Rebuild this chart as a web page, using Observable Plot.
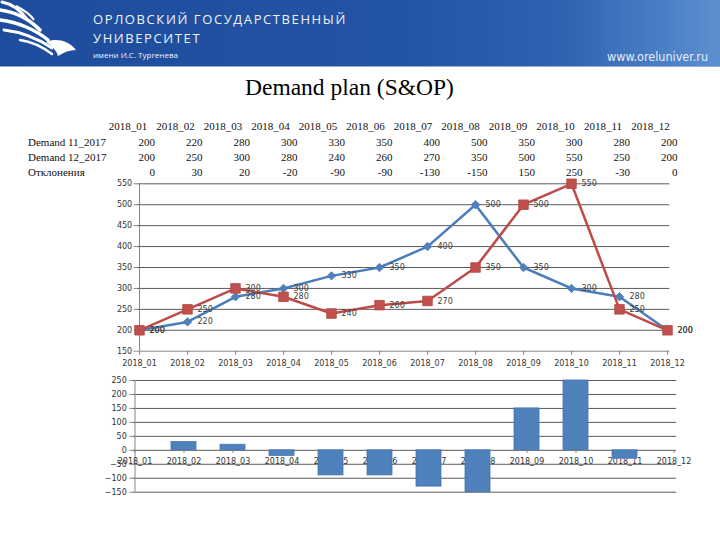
<!DOCTYPE html>
<html><head><meta charset="utf-8">
<script src="https://cdn.jsdelivr.net/npm/d3@7"></script>
<script src="https://cdn.jsdelivr.net/npm/@observablehq/plot@0.6"></script>
<style>
body{margin:0;background:#fff;width:720px;height:540px;overflow:hidden;position:relative;font-family:"DejaVu Sans",sans-serif}
#banner{position:absolute;left:0;top:0;width:720px;height:66px;background:linear-gradient(90deg,#1f4c9c 0%,#2353a5 55%,#2f62b0 78%,#4b7fc5 92%,#5d8fd0 100%);border-bottom:1px solid #8fb0de;overflow:hidden}
.bt{position:absolute;color:#eef3fb;font-family:"Open Sans",sans-serif;white-space:nowrap}
#title{position:absolute;left:245px;top:74px;font-family:"Liberation Serif","Times New Roman",serif;font-size:23.5px;color:#000;white-space:nowrap}
.cell{position:absolute;font-family:"Liberation Serif","Times New Roman",serif;font-size:11px;line-height:14px;color:#111;white-space:nowrap}
.chart{position:absolute;left:0}
</style></head>
<body>
<div id="banner">
<svg width="120" height="66" style="position:absolute;left:0;top:0">
<g fill="none" stroke="#ffffff" stroke-linecap="round">
<path d="M2,2 C12,4 20,10 26,18" stroke-width="3"/>
<path d="M0,10 C16,12 30,20 40,30" stroke-width="3.5"/>
<path d="M0,20 C18,22 36,30 48,40" stroke-width="3.5"/>
<path d="M4,30 C22,32 40,40 52,48" stroke-width="3"/>
<path d="M20,40 C34,42 44,48 52,54" stroke-width="2.5"/>
</g>
<path d="M46,42 C56,38 68,40 76,50 C70,50 64,52 58,56 C56,50 52,46 46,42 Z" fill="#ffffff"/>
<path d="M16,6 C24,10 30,14 34,20" stroke="#ffffff" stroke-width="2" fill="none"/>
</svg>
<div class="bt" style="left:93px;top:10px;font-size:13px;letter-spacing:1.6px">ОРЛОВСКИЙ ГОСУДАРСТВЕННЫЙ</div>
<div class="bt" style="left:93px;top:29px;font-size:13px;letter-spacing:1.6px">УНИВЕРСИТЕТ</div>
<div class="bt" style="left:93px;top:49px;font-size:8px">имени И.С. Тургенева</div>
<div class="bt" style="left:607px;top:49px;font-size:12.5px;font-family:'DejaVu Sans Condensed','DejaVu Sans',sans-serif;color:#e6eef9">www.oreluniver.ru</div>
</div>
<div id="title">Demand plan (S&amp;OP)</div>
<div id="table"></div>
<div id="lineChart" class="chart" style="top:175px"></div>
<div id="barChart" class="chart" style="top:370px"></div>
<script>
const months = ["2018_01","2018_02","2018_03","2018_04","2018_05","2018_06","2018_07","2018_08","2018_09","2018_10","2018_11","2018_12"];
const seriesNames = ["Demand 11_2017","Demand 12_2017"];
const deviationName = "Отклонения";
const demandNov = [200,220,280,300,330,350,400,500,350,300,280,200];
const demandDec = [200,250,300,280,240,260,270,350,500,550,250,200];
const deviation = [0,30,20,-20,-90,-90,-130,-150,150,250,-30,0];
const lineTicks = [150,200,250,300,350,400,450,500,550];
const barTicks = [-150,-100,-50,0,50,100,150,200,250];

// table
const table = document.getElementById("table");
function cell(text, css){const d=document.createElement("div");d.className="cell";d.textContent=text;Object.assign(d.style,css);table.appendChild(d);}
const rowTops = [119,135,150,165];
months.forEach((m,i)=>cell(m,{left:(128+i*47.5-30)+"px",width:"60px",textAlign:"center",top:rowTops[0]+"px"}));
const rows = [[seriesNames[0],demandNov],[seriesNames[1],demandDec],[deviationName,deviation]];
rows.forEach(([name,vals],r)=>{
  cell(name,{left:"28px",top:rowTops[r+1]+"px"});
  vals.forEach((v,i)=>cell(String(v),{left:(155+i*47.5-40)+"px",width:"40px",textAlign:"right",top:rowTops[r+1]+"px"}));
});

const nov = months.map((m,i)=>({month:m,value:demandNov[i]}));
const dec = months.map((m,i)=>({month:m,value:demandDec[i]}));
const dev = months.map((m,i)=>({month:m,value:deviation[i]}));

const gridColor = "#5a5a5a", axisColor = "#868686", textColor = "#333";
const blueLine = "#4A7EBB", blueFill = "#4F81BD", redLine = "#BE4B48", redFill = "#C0504D";

const line = Plot.plot({
  width:720, height:195, marginLeft:136.7, marginRight:50.7, marginTop:8.3, marginBottom:19.3,
  x:{type:"point", domain:months, padding:0, label:null},
  y:{domain:[150,550], label:null},
  style:{fontFamily:"DejaVu Sans, sans-serif", fontSize:"8px", color:textColor, background:"transparent", overflow:"visible"},
  marks:[
    Plot.ruleY(lineTicks.filter(t=>t>150), {stroke:gridColor}),
    Plot.ruleY([150], {stroke:axisColor}),
    Plot.ruleX([months[0]], {stroke:axisColor}),
    Plot.axisY({ticks:lineTicks, tickSize:3, tickPadding:2, stroke:axisColor, fill:textColor, label:null}),
    Plot.axisX({tickSize:4, tickPadding:5, stroke:axisColor, fill:textColor, label:null}),
    Plot.line(nov, {x:"month", y:"value", stroke:blueLine, strokeWidth:2.5}),
    Plot.dot(nov, {x:"month", y:"value", symbol:"diamond2", r:3.8, fill:blueFill, stroke:"#4575b0", strokeWidth:0.8}),
    Plot.line(dec, {x:"month", y:"value", stroke:redLine, strokeWidth:2.5}),
    Plot.dot(dec, {x:"month", y:"value", symbol:"square", r:5.4, fill:redFill, stroke:"#b34744", strokeWidth:0.8}),
    Plot.text(nov, {x:"month", y:"value", text:d=>d.value, dx:10, textAnchor:"start", fill:"#404040", fontSize:8}),
    Plot.text(dec, {x:"month", y:"value", text:d=>d.value, dx:10, textAnchor:"start", fill:"#404040", fontSize:8})
  ]
});
document.getElementById("lineChart").appendChild(line);

const bar = Plot.plot({
  width:720, height:130, marginLeft:132.3, marginRight:44, marginTop:10, marginBottom:8.3,
  x:{type:"band", domain:months, range:[107.6,700.7], paddingInner:0.5, paddingOuter:0.25, label:null, axis:null},
  y:{domain:[-150,250], label:null},
  style:{fontFamily:"DejaVu Sans, sans-serif", fontSize:"8px", color:textColor, background:"transparent", overflow:"visible"},
  marks:[
    Plot.ruleY(barTicks.filter(t=>t!==0), {stroke:gridColor}),
    Plot.ruleX([months[0]], {stroke:axisColor}),
    Plot.axisY({ticks:barTicks, tickSize:3, tickPadding:3, stroke:axisColor, fill:textColor, label:null}),
    Plot.text(months, {x:d=>d, y:0, dy:11, text:d=>d, fill:textColor, fontSize:8}),
    Plot.ruleY([0], {stroke:"#5a5a5a"}),
    Plot.ruleX(months, {x:d=>d, y1:0, y2:-11, stroke:axisColor}),
    Plot.barY(dev, {x:"month", y:"value", fill:blueFill, stroke:"#4674b0", strokeWidth:0.8})
  ]
});
document.getElementById("barChart").appendChild(bar);
</script>
</body></html>
